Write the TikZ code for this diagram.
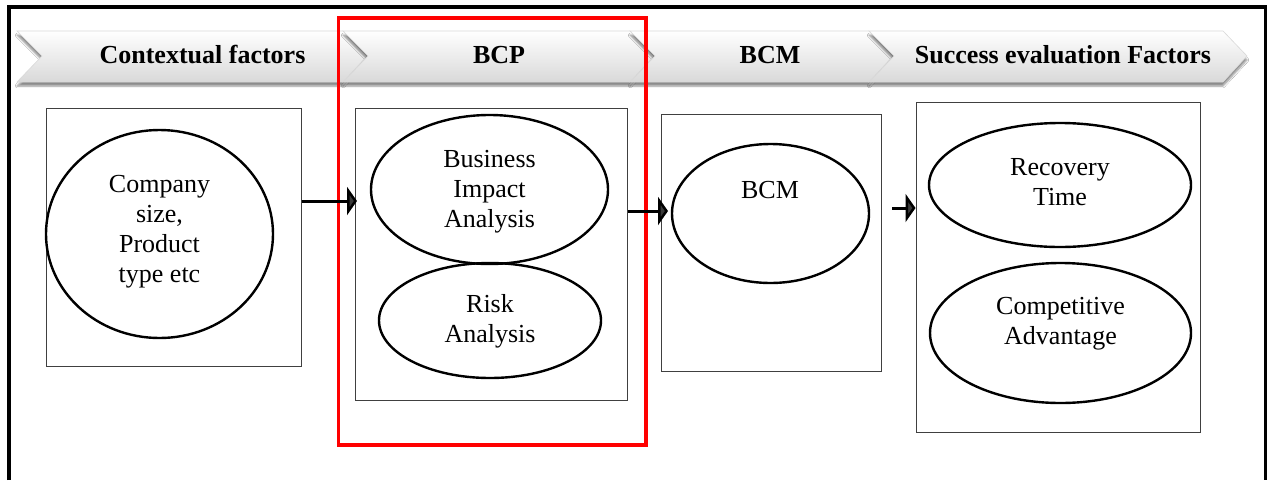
\documentclass[tikz,border=0pt]{standalone}
\usepackage{fontspec}
\setmainfont{Liberation Serif}
\usetikzlibrary{arrows.meta,shapes.geometric,shadows.blur}
\begin{document}
\begin{tikzpicture}[x=1pt,y=-1pt,
  bnr/.style={draw=gray!30, line width=0.6pt, top color=white, bottom color=gray!30,
    blur shadow={shadow xshift=0pt, shadow yshift=-4pt, shadow blur steps=6, shadow opacity=45}},
  btxt/.style={font=\fontsize{26}{31}\selectfont\bfseries, inner sep=0pt},
  etxt/.style={font=\fontsize{26}{30}\selectfont, align=center, inner sep=0pt},
  box/.style={draw=black!75, line width=1pt},
  ell/.style={ellipse, draw=black, line width=2.4pt, inner sep=0pt},
  arr/.style={line width=3pt, -{Triangle[length=10pt, width=28pt]}},
  frame/.style={line width=3.5pt, black},
  redbox/.style={draw=red, line width=3.5pt}
]
\useasboundingbox (0,0) rectangle (1268,480);
\fill[white] (0,0) rectangle (1268,480);

% outer frame
\draw[frame] (9,480) -- (9,7) -- (1265.5,7) -- (1265.5,480);

% banners
\newcommand\mybanner[2]{%
  \path[bnr] (#1,31) -- (#2,31) -- (#2+24,56) -- (#2,82) -- (#1,82) -- (#1+25,56) -- cycle;}
\mybanner{17}{343}
\mybanner{343}{630}
\mybanner{630}{869}
\mybanner{869}{1223}

\node[btxt] (t1) at (202.5,55) {Contextual factors};
\node[btxt] (t2) at (499,55) {BCP};
\node[btxt] (t3) at (770,55) {BCM};
\node[btxt] (t4) at (1063,55) {Success evaluation Factors};

% boxes
\node[box, minimum width=255pt, minimum height=258pt, inner sep=0pt] (box1) at (173.5,237) {};
\node[box, minimum width=272pt, minimum height=292pt, inner sep=0pt] (box2) at (491,254) {};
\node[box, minimum width=220pt, minimum height=257pt, inner sep=0pt] (box3) at (771,242.5) {};
\node[box, minimum width=284pt, minimum height=330pt, inner sep=0pt] (box4) at (1058,267) {};

% red highlight
\draw[redbox] (338.5,18) rectangle (646,445);

% ellipses
\node[ell, minimum width=227pt, minimum height=208pt] (e1) at (159.5,234) {};
\node[ell, minimum width=237pt, minimum height=149pt] (e2) at (489.5,189.5) {};
\node[ell, minimum width=222pt, minimum height=115pt] (e3) at (490,320.5) {};
\node[ell, minimum width=197pt, minimum height=139pt] (e4) at (770.5,213.5) {};
\node[ell, minimum width=262pt, minimum height=124pt] (e5) at (1060,185) {};
\node[ell, minimum width=261pt, minimum height=140pt] (e6) at (1060.5,333) {};

\node[etxt] (l1) at (159.5,232) {Company\\size,\\Product\\type etc};
\node[etxt] (l2) at (489.5,192) {Business\\Impact\\Analysis};
\node[etxt] (l3) at (490,321) {Risk\\Analysis};
\node[etxt] (l4) at (770,190) {BCM};
\node[etxt] (l5) at (1060,182) {Recovery\\Time};
\node[etxt] (l6) at (1060.5,324) {Competitive\\Advantage};

% arrows
\coordinate (a1e) at (357,201);
\coordinate (a2e) at (668,211);
\coordinate (a3s) at (892,208);
\draw[arr] (box1.east |- a1e) -- (a1e);
\draw[arr] (box2.east |- a2e) -- (a2e);
\draw[arr] (a3s) -- (box4.west |- a3s);
\end{tikzpicture}
\end{document}
